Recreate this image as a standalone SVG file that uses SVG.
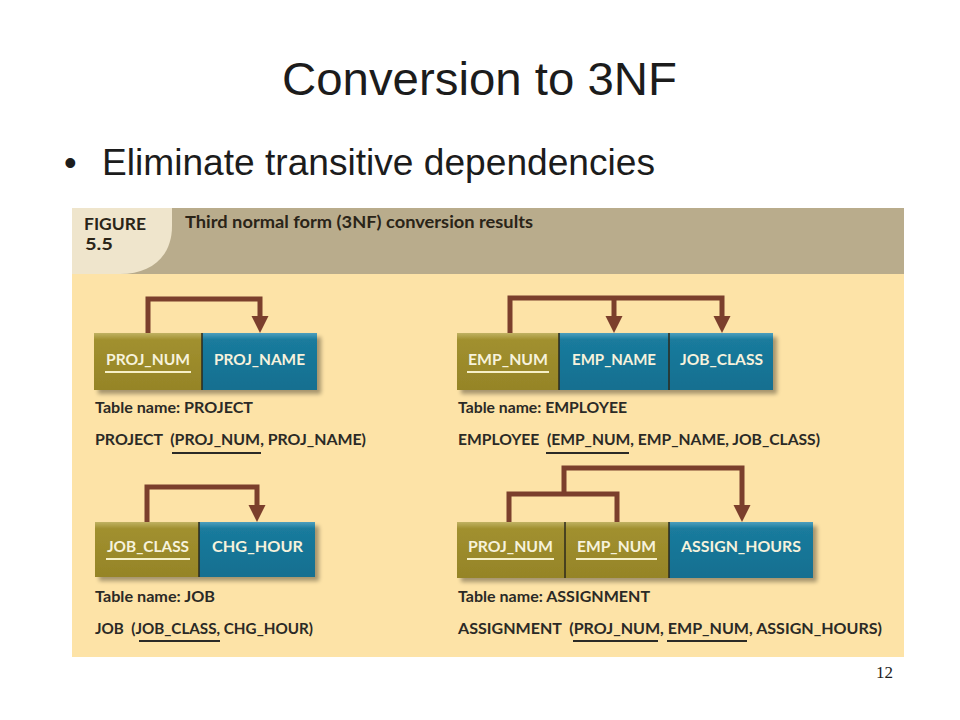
<svg xmlns="http://www.w3.org/2000/svg" width="960" height="720" viewBox="0 0 960 720">
<defs>
<linearGradient id="gOlive" x1="0" y1="0" x2="0" y2="1">
<stop offset="0" stop-color="#c0b263"/>
<stop offset="0.12" stop-color="#a1902f"/>
<stop offset="1" stop-color="#958427"/>
</linearGradient>
<linearGradient id="gBlue" x1="0" y1="0" x2="0" y2="1">
<stop offset="0" stop-color="#4d9fbe"/>
<stop offset="0.12" stop-color="#1a7b9d"/>
<stop offset="1" stop-color="#136f90"/>
</linearGradient>
<filter id="shadow" x="-10%" y="-20%" width="130%" height="160%">
<feGaussianBlur in="SourceAlpha" stdDeviation="2"/>
<feOffset dx="4" dy="4" result="b"/>
<feComponentTransfer><feFuncA type="linear" slope="0.35"/></feComponentTransfer>
<feMerge><feMergeNode/><feMergeNode in="SourceGraphic"/></feMerge>
</filter>
<path id="head" d="M-8.5,0 H8.5 L0,17 Z" fill="#7b3f2c"/>
</defs>
<style>
.title{font-family:"Liberation Sans",Arial,sans-serif;fill:#1c1c1c}
.fig{font-family:Lato,"Open Sans",sans-serif;font-weight:bold}
.hdr{font-size:17px;fill:#2a2418}
.lbl{font-size:15px;fill:#2b2a26}
.cell{font-size:15px;fill:#f6f2dc}
.olive{fill:url(#gOlive)}
.blue{fill:url(#gBlue)}
.div{stroke:#2c2a1c;stroke-width:1.5}
.ul{stroke:#f6f0c8;stroke-width:2}
.ulk{stroke:#2b2a26;stroke-width:2}
.conn{fill:none;stroke:#7b3f2c;stroke-width:5;stroke-linejoin:miter;stroke-linecap:butt}
</style>
<rect x="0" y="0" width="960" height="720" fill="#ffffff"/>
<text class="title" x="282" y="95" font-size="47" textLength="395" lengthAdjust="spacingAndGlyphs">Conversion to 3NF</text>
<text class="title" x="64" y="175" font-size="36">•</text>
<text class="title" x="102" y="175" font-size="36" textLength="553" lengthAdjust="spacingAndGlyphs">Eliminate transitive dependencies</text>

<g id="panel">
<rect x="72" y="208" width="832" height="449" fill="#fde3a7"/>
<rect x="72" y="208" width="832" height="66" fill="#b9ac8c"/>
<path d="M72,208 H172 V226 C172,256 152,274 120,274 H72 Z" fill="#efe5cc"/>
<text class="fig hdr" x="84" y="230" textLength="62" lengthAdjust="spacingAndGlyphs">FIGURE</text>
<text class="fig hdr" x="85" y="250" textLength="28" lengthAdjust="spacingAndGlyphs">5.5</text>
<text class="fig hdr" x="185" y="228" textLength="348" lengthAdjust="spacingAndGlyphs">Third normal form (3NF) conversion results</text>
</g>

<g id="connectors">
<path class="conn" d="M148,333 V299 H260 V318"/>
<use href="#head" x="260" y="316"/>
<path class="conn" d="M510,333 V298 H722 V318"/>
<path class="conn" d="M614,298 V318"/>
<use href="#head" x="614" y="316"/>
<use href="#head" x="722" y="316"/>
<path class="conn" d="M147,522 V487 H257 V507"/>
<use href="#head" x="257" y="505"/>
<path class="conn" d="M509,522 V494 H617 V522"/>
<path class="conn" d="M564,494 V468 H742 V507"/>
<use href="#head" x="742" y="505"/>
</g>

<g id="project">
<g filter="url(#shadow)">
<rect class="olive" x="94" y="333" width="108" height="57"/>
<rect class="blue" x="202" y="333" width="115" height="57"/>
</g>
<line class="div" x1="202" y1="333" x2="202" y2="390"/>
<text class="fig cell" x="106" y="365" textLength="84" lengthAdjust="spacingAndGlyphs">PROJ_NUM</text>
<line class="ul" x1="105" y1="372" x2="191" y2="372"/>
<text class="fig cell" x="214" y="365" textLength="91" lengthAdjust="spacingAndGlyphs">PROJ_NAME</text>
<text class="fig lbl" x="95" y="413" textLength="158" lengthAdjust="spacingAndGlyphs">Table name: PROJECT</text>
<text class="fig lbl" x="95" y="445" textLength="271" lengthAdjust="spacingAndGlyphs" xml:space="preserve">PROJECT  (PROJ_NUM, PROJ_NAME)</text>
<line class="ulk" x1="172" y1="453" x2="261" y2="453"/>
</g>

<g id="employee">
<g filter="url(#shadow)">
<rect class="olive" x="457" y="333" width="102" height="57"/>
<rect class="blue" x="559" y="333" width="214" height="57"/>
</g>
<line class="div" x1="559" y1="333" x2="559" y2="390"/>
<line class="div" x1="669" y1="333" x2="669" y2="390"/>
<text class="fig cell" x="468" y="365" textLength="80" lengthAdjust="spacingAndGlyphs">EMP_NUM</text>
<line class="ul" x1="467" y1="372" x2="549" y2="372"/>
<text class="fig cell" x="572" y="365" textLength="84" lengthAdjust="spacingAndGlyphs">EMP_NAME</text>
<text class="fig cell" x="680" y="365" textLength="83" lengthAdjust="spacingAndGlyphs">JOB_CLASS</text>
<text class="fig lbl" x="458" y="413" textLength="169" lengthAdjust="spacingAndGlyphs">Table name: EMPLOYEE</text>
<text class="fig lbl" x="458" y="445" textLength="362" lengthAdjust="spacingAndGlyphs" xml:space="preserve">EMPLOYEE  (EMP_NUM, EMP_NAME, JOB_CLASS)</text>
<line class="ulk" x1="546" y1="453" x2="629" y2="453"/>
</g>

<g id="job">
<g filter="url(#shadow)">
<rect class="olive" x="95" y="522" width="104" height="55"/>
<rect class="blue" x="199" y="522" width="116" height="55"/>
</g>
<line class="div" x1="199" y1="522" x2="199" y2="577"/>
<text class="fig cell" x="107" y="552" textLength="82" lengthAdjust="spacingAndGlyphs">JOB_CLASS</text>
<line class="ul" x1="106" y1="559" x2="190" y2="559"/>
<text class="fig cell" x="212" y="552" textLength="91" lengthAdjust="spacingAndGlyphs">CHG_HOUR</text>
<text class="fig lbl" x="95" y="602" textLength="120" lengthAdjust="spacingAndGlyphs">Table name: JOB</text>
<text class="fig lbl" x="95" y="634" textLength="218" lengthAdjust="spacingAndGlyphs" xml:space="preserve">JOB  (JOB_CLASS, CHG_HOUR)</text>
<line class="ulk" x1="139" y1="641" x2="220" y2="641"/>
</g>

<g id="assignment">
<g filter="url(#shadow)">
<rect class="olive" x="457" y="522" width="212" height="56"/>
<rect class="blue" x="669" y="522" width="144" height="56"/>
</g>
<line class="div" x1="565" y1="522" x2="565" y2="578"/>
<line class="div" x1="669" y1="522" x2="669" y2="578"/>
<text class="fig cell" x="468" y="552" textLength="85" lengthAdjust="spacingAndGlyphs">PROJ_NUM</text>
<line class="ul" x1="467" y1="559" x2="554" y2="559"/>
<text class="fig cell" x="577" y="552" textLength="79" lengthAdjust="spacingAndGlyphs">EMP_NUM</text>
<line class="ul" x1="576" y1="559" x2="657" y2="559"/>
<text class="fig cell" x="681" y="552" textLength="120" lengthAdjust="spacingAndGlyphs">ASSIGN_HOURS</text>
<text class="fig lbl" x="458" y="602" textLength="192" lengthAdjust="spacingAndGlyphs">Table name: ASSIGNMENT</text>
<text class="fig lbl" x="458" y="634" textLength="424" lengthAdjust="spacingAndGlyphs" xml:space="preserve">ASSIGNMENT  (PROJ_NUM, EMP_NUM, ASSIGN_HOURS)</text>
<line class="ulk" x1="573" y1="641" x2="658" y2="641"/>
<line class="ulk" x1="667" y1="641" x2="747" y2="641"/>
</g>

<text x="876" y="678" font-family="'Liberation Serif','Times New Roman',serif" font-size="17" fill="#1c1c1c">12</text>
</svg>
